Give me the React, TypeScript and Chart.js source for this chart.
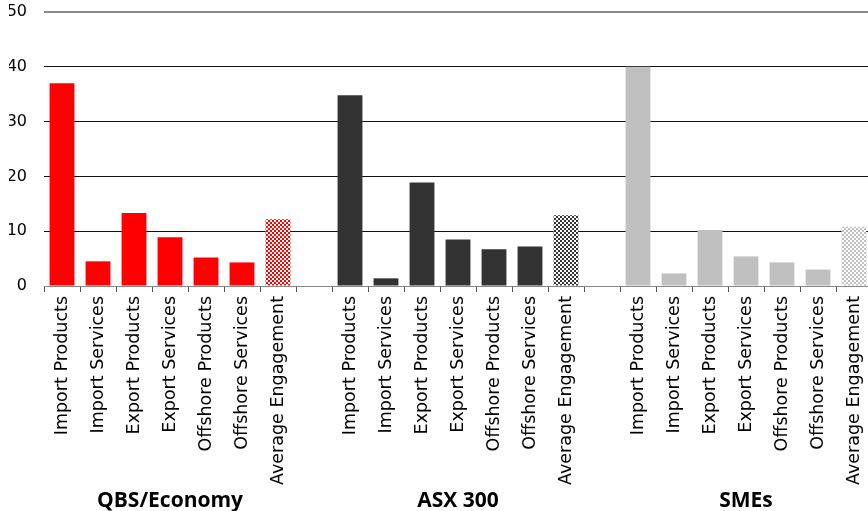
import React, { useEffect, useRef } from "react";
import { Chart, registerables } from "chart.js";

Chart.register(...registerables);

// Engagement measures shown for every group
const measures = [
  "Import Products",
  "Import Services",
  "Export Products",
  "Export Services",
  "Offshore Products",
  "Offshore Services",
  "Average Engagement",
];

const groups = ["QBS/Economy", "ASX 300", "SMEs"];

const qbsValues = [37.0, 4.5, 13.3, 8.9, 5.2, 4.3, 12.2];
const asxValues = [34.8, 1.4, 18.9, 8.5, 6.7, 7.2, 12.9];
const smeValues = [40.0, 2.3, 10.2, 5.4, 4.3, 3.0, 10.8];

const groupColors = ["#ff0000", "#333333", "#c0c0c0"];

const yTicks = [0, 10, 20, 30, 40, 50];

const labelFont = "'DejaVu Sans'";
const plotTop = 12;

function checker(color: string): CanvasPattern | string {
  const c = document.createElement("canvas");
  c.width = 4;
  c.height = 4;
  const ctx = c.getContext("2d");
  if (!ctx) return color;
  ctx.fillStyle = "#ffffff";
  ctx.fillRect(0, 0, 4, 4);
  ctx.fillStyle = color;
  ctx.fillRect(0, 0, 2, 2);
  ctx.fillRect(2, 2, 2, 2);
  const p = ctx.createPattern(c, "repeat");
  return p || color;
}

// Pin the top of the plotting area so the value axis uses the full height
const plotTopPlugin = {
  id: "plotTop",
  afterLayout(chart: any) {
    const y = chart.scales.y;
    const area = chart.chartArea;
    y.top = plotTop;
    y.height = y.bottom - plotTop;
    y.configure();
    area.top = plotTop;
    area.height = area.bottom - plotTop;
  },
};

const groupLabelPlugin = {
  id: "groupLabels",
  afterDraw(chart: any) {
    const x = chart.scales.x;
    const ctx = chart.ctx;
    ctx.save();
    ctx.font = "bold 21px 'Open Sans'";
    ctx.fillStyle = "#000";
    ctx.textAlign = "center";
    ctx.textBaseline = "alphabetic";
    groups.forEach((g, i) => {
      const center = i * (measures.length + 1) + (measures.length - 1) / 2;
      ctx.fillText(g, x.getPixelForValue(center), chart.height - 4);
    });
    ctx.restore();
  },
};

export default function App() {
  const ref = useRef<HTMLCanvasElement>(null);

  useEffect(() => {
    if (!ref.current) return;
    const labels: string[] = [];
    const data: (number | null)[] = [];
    const colors: (string | CanvasPattern)[] = [];
    const series = [qbsValues, asxValues, smeValues];
    series.forEach((vals, gi) => {
      if (gi > 0) {
        labels.push("");
        data.push(null);
        colors.push("#fff");
      }
      measures.forEach((m, mi) => {
        labels.push(m);
        data.push(vals[mi]);
        colors.push(mi === measures.length - 1 ? checker(groupColors[gi]) : groupColors[gi]);
      });
    });

    const chart = new Chart(ref.current, {
      type: "bar",
      data: {
        labels,
        datasets: [
          {
            data,
            backgroundColor: colors as any,
            borderWidth: 0,
            barPercentage: 0.69,
            categoryPercentage: 1,
          },
        ],
      },
      plugins: [plotTopPlugin, groupLabelPlugin],
      options: {
        animation: false,
        responsive: false,
        layout: { padding: { left: 9, top: 0, right: 0, bottom: 20 } },
        plugins: { legend: { display: false }, tooltip: { enabled: false } },
        scales: {
          x: {
            afterFit: (s: any) => {
              s.height = 205;
            },
            grid: {
              drawOnChartArea: false,
              drawTicks: true,
              tickLength: 6,
              color: "#555",
              offset: true,
            },
            border: { color: "#888", width: 1 },
            ticks: {
              autoSkip: false,
              maxRotation: 90,
              minRotation: 90,
              padding: 4,
              color: "#000",
              font: { family: labelFont, size: 17.5 },
            },
          },
          y: {
            min: 0,
            max: 50,
            afterBuildTicks: (s: any) => {
              s.ticks = yTicks.map((v) => ({ value: v }));
            },
            afterFit: (s: any) => {
              s.width = 35;
            },
            grid: {
              drawTicks: false,
              color: (c: any) => (c.tick && (c.tick.value === 50 || c.tick.value === 0) ? "#888" : "#111"),
              lineWidth: (c: any) => (c.tick && c.tick.value === 50 ? 2 : 1),
            },
            border: { display: false },
            ticks: {
              padding: 17,
              color: "#000",
              font: { family: labelFont, size: 16 },
            },
          },
        },
      },
    });
    return () => chart.destroy();
  }, []);

  return (
    <div style={{ position: "absolute", left: 0, top: 0, width: 868, height: 511, overflow: "hidden", background: "#fff" }}>
      <canvas ref={ref} width={879} height={511} style={{ display: "block" }} />
    </div>
  );
}
